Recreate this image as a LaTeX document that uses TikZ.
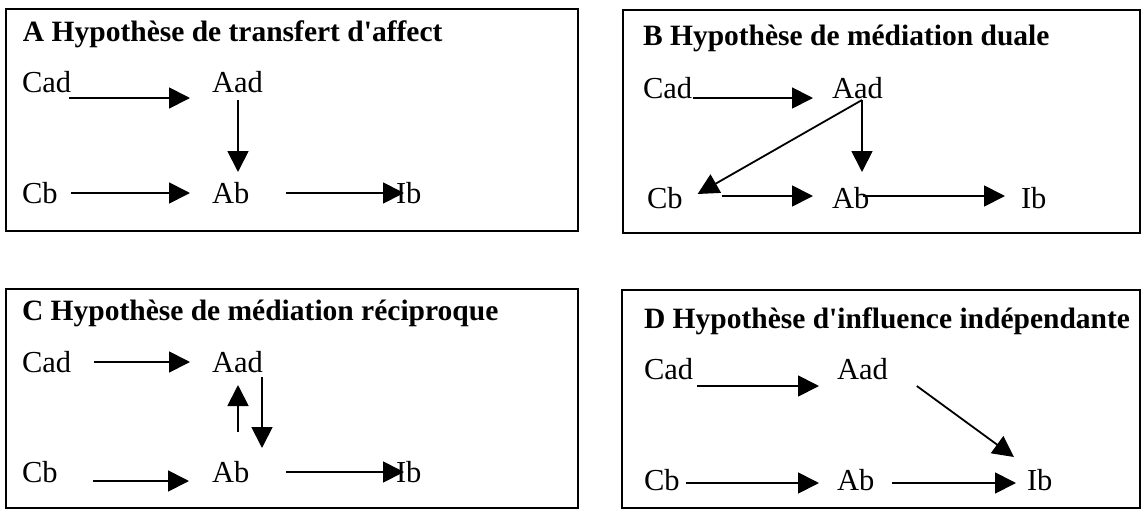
\documentclass[tikz,border=0pt]{standalone}
\usepackage{fontspec}
\setmainfont{Liberation Serif}[Ligatures=TeXOff]
\usetikzlibrary{arrows.meta,calc}
\tikzset{
  frame/.style={draw=black,line width=2.5pt},
  lbl/.style={anchor=base west,inner sep=0pt,outer sep=0pt,font=\fontsize{30.5}{36}\selectfont},
  ttl/.style={anchor=base west,inner sep=0pt,outer sep=0pt,font=\fontsize{29.5}{34}\selectfont\bfseries},
  arr/.style={line width=1.8pt,-{Triangle[length=21pt,width=21pt]}}
}
\begin{document}
\begin{tikzpicture}[x=1pt,y=-1pt]
\useasboundingbox (0,0) rectangle (1144,512);
% frames
\draw[frame] (6,9) rectangle (578,231);
\draw[frame] (623,10) rectangle (1140,233);
\draw[frame] (6,289) rectangle (578,508);
\draw[frame] (622,290) rectangle (1140,508);
% ---------- A ----------
\node[ttl] (tA) at (23,41) {A Hypothèse de transfert d'affect};
\node[lbl] (cadA) at (22,92) {Cad};
\node[lbl] (aadA) at (212,92) {Aad};
\node[lbl] (cbA) at (22,203) {Cb};
\node[lbl] (abA) at (212,203) {Ab};
\node[lbl] (ibA) at (396,203) {Ib};
\draw[arr] ($(cadA.base east)+(-2,6)$) -- ($(aadA.base west)+(-22,6)$);
\draw[arr] ($(aadA.base west)+(26,8)$) -- ($(abA.base west)+(26,-31)$);
\draw[arr] ($(cbA.base east)+(13,-10)$) -- ($(abA.base west)+(-22,-10)$);
\draw[arr] ($(abA.base east)+(37,-10)$) -- ($(ibA.base west)+(8,-10)$);
% ---------- B ----------
\node[ttl] (tB) at (643,45) {B Hypothèse de médiation duale};
\node[lbl] (cadB) at (643,98) {Cad};
\node[lbl] (aadB) at (832,98) {Aad};
\node[lbl] (cbB) at (647,208) {Cb};
\node[lbl] (abB) at (832,208) {Ab};
\node[lbl] (ibB) at (1021,208) {Ib};
\draw[arr] ($(cadB.base east)+(1,0)$) -- ($(aadB.base west)+(-19,0)$);
\draw[arr] ($(aadB.base west)+(30,2)$) -- ($(abB.base west)+(30,-36)$);
\draw[arr] ($(aadB.base west)+(30,2)$) -- ($(cbB.base east)+(15,-14)$);
\draw[arr] ($(cbB.base east)+(39,-12)$) -- ($(abB.base west)+(-19,-12)$);
\draw[arr] ($(abB.base west)+(31,-12)$) -- ($(ibB.base west)+(-16,-12)$);
% ---------- C ----------
\node[ttl] (tC) at (22,320) {C Hypothèse de médiation réciproque};
\node[lbl] (cadC) at (22,372) {Cad};
\node[lbl] (aadC) at (212,372) {Aad};
\node[lbl] (cbC) at (22,482) {Cb};
\node[lbl] (abC) at (212,482) {Ab};
\node[lbl] (ibC) at (396,482) {Ib};
\draw[arr] ($(cadC.base east)+(23,-10)$) -- ($(aadC.base west)+(-22,-10)$);
\draw[arr] ($(abC.base west)+(26,-50)$) -- ($(aadC.base west)+(26,13)$);
\draw[arr] ($(aadC.base west)+(50,5)$) -- ($(abC.base west)+(50,-34)$);
\draw[arr] ($(cbC.base east)+(35,-1)$) -- ($(abC.base west)+(-23,-1)$);
\draw[arr] ($(abC.base east)+(37,-10)$) -- ($(ibC.base west)+(8,-10)$);
% ---------- D ----------
\node[ttl] (tD) at (644,328) {D Hypothèse d'influence indépendante};
\node[lbl] (cadD) at (644,379) {Cad};
\node[lbl] (aadD) at (837,379) {Aad};
\node[lbl] (cbD) at (644,490) {Cb};
\node[lbl] (abD) at (837,490) {Ab};
\node[lbl] (ibD) at (1027,490) {Ib};
\draw[arr] ($(cadD.base east)+(4,7)$) -- ($(aadD.base west)+(-18,7)$);
\draw[arr] ($(aadD.base east)+(29,7)$) -- ($(ibD.base west)+(-13,-33)$);
\draw[arr] ($(cbD.base east)+(6,-7)$) -- ($(abD.base west)+(-18,-7)$);
\draw[arr] ($(abD.base east)+(18,-7)$) -- ($(ibD.base west)+(-11,-7)$);
\end{tikzpicture}
\end{document}
